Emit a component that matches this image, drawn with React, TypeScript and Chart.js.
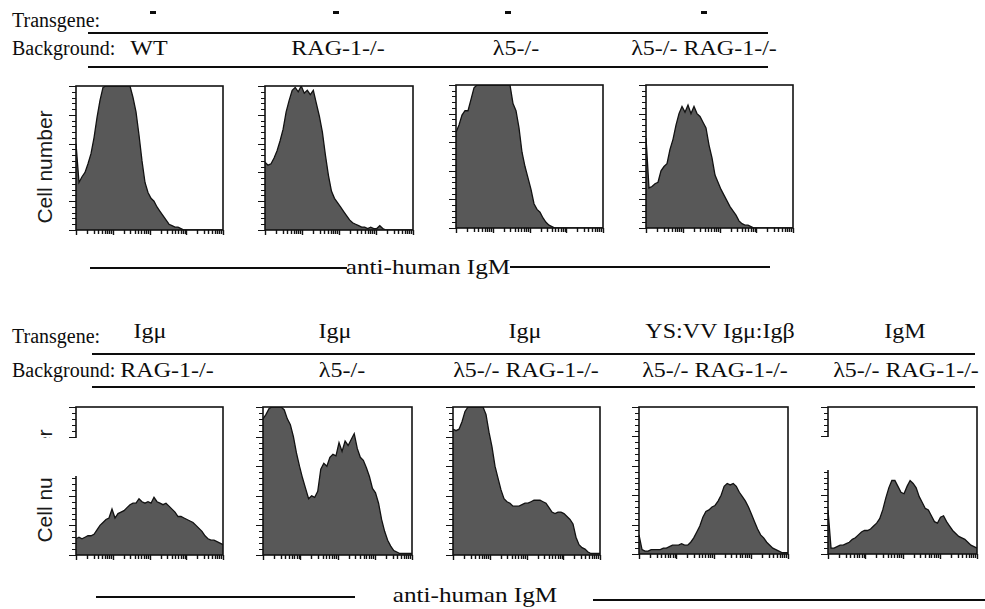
import React, { useEffect, useRef } from 'react';
import { Chart, registerables } from 'chart.js';

Chart.register(...registerables);

// ---------- data ----------
const channels: string[] = Array.from({ length: 50 }, (_, i) => String(i));

// top row: Transgene "-"
const wtNoTg = [60, 33, 37, 40, 46, 53, 64, 78, 90, 99, 100, 100, 100, 100, 100, 100, 100, 100, 100, 92, 82, 66, 48, 33, 26, 22, 20, 16, 13, 10, 7, 4, 3, 2, 2, 1, 0, 0, 0, 0, 0, 0, 0, 0, 0, 0, 0, 0, 0, 0];
const rag1NoTg = [47, 45, 46, 50, 55, 62, 70, 82, 90, 97, 99, 96, 100, 95, 97, 94, 97, 88, 79, 68, 52, 38, 27, 22, 19, 16, 13, 10, 7, 5, 4, 3, 2, 2, 1, 2, 1, 1, 3, 1, 0, 0, 0, 0, 0, 0, 0, 0, 0, 0];
const l5NoTg = [67, 72, 79, 82, 82, 90, 98, 100, 100, 100, 100, 100, 100, 100, 100, 100, 100, 100, 100, 87, 82, 70, 53, 43, 35, 27, 17, 13, 11, 7, 4, 2, 1, 0, 0, 0, 0, 0, 0, 0, 0, 0, 0, 0, 0, 0, 0, 0, 0, 0];
const l5Rag1NoTg = [63, 28, 29, 31, 32, 40, 43, 45, 55, 62, 72, 80, 85, 81, 86, 80, 85, 80, 78, 74, 70, 58, 49, 37, 32, 27, 23, 19, 15, 12, 9, 5, 3, 2, 2, 1, 0, 0, 0, 0, 0, 0, 0, 0, 0, 0, 0, 0, 0, 0];

// bottom row: with transgenes
const igmuRag1 = [11, 12, 11, 12, 13, 13, 14, 17, 20, 22, 24, 25, 31, 25, 28, 29, 30, 32, 34, 35, 35, 38, 36, 35, 36, 35, 39, 36, 35, 34, 35, 33, 31, 29, 26, 26, 25, 24, 23, 22, 20, 18, 16, 13, 11, 10, 10, 9, 8, 7];
const igmuL5 = [92, 95, 99, 100, 100, 100, 100, 98, 92, 88, 80, 69, 60, 52, 45, 38, 40, 39, 43, 58, 62, 60, 66, 68, 67, 76, 70, 77, 74, 78, 82, 72, 66, 64, 59, 53, 45, 42, 35, 24, 16, 10, 6, 3, 2, 1, 1, 1, 1, 1];
const igmuL5Rag1 = [85, 84, 85, 90, 97, 100, 100, 100, 100, 100, 100, 95, 83, 73, 60, 52, 44, 38, 36, 35, 33, 33, 33, 34, 35, 35, 36, 37, 37, 37, 36, 35, 32, 29, 28, 29, 29, 28, 26, 24, 21, 12, 7, 5, 4, 2, 1, 1, 1, 1];
const ysvvL5Rag1 = [13, 3, 2, 2, 3, 3, 3, 3, 4, 4, 5, 6, 6, 6, 7, 6, 6, 8, 11, 15, 19, 25, 29, 30, 32, 33, 36, 40, 46, 48, 47, 48, 46, 42, 39, 36, 32, 27, 22, 17, 13, 11, 8, 6, 4, 3, 2, 1, 1, 1];
const igmL5Rag1 = [30, 4, 4, 5, 6, 6, 7, 8, 10, 11, 13, 15, 16, 16, 17, 19, 21, 24, 30, 38, 45, 50, 50, 46, 42, 41, 46, 50, 48, 45, 39, 35, 31, 30, 26, 22, 21, 25, 26, 22, 19, 16, 14, 12, 11, 10, 8, 6, 5, 4];

const yTickValues = [0, 4, 8, 12, 16, 20, 24, 28, 32, 36, 40, 44, 48, 52, 56, 60, 64, 68, 72, 76, 80, 84, 88, 92, 96, 100];
const yMajorTicks = [0, 20, 40, 60, 80, 100];
const logTickValues = [1, 2, 3, 4, 5, 6, 7, 8, 9, 10, 20, 30, 40, 50, 60, 70, 80, 90, 100, 200, 300, 400, 500, 600, 700, 800, 900, 1000, 2000, 3000, 4000, 5000, 6000, 7000, 8000, 9000, 10000];
const logMajorTicks = [1, 10, 100, 1000, 10000];

// ---------- style ----------
const FILL = '#585858';
const EDGE = '#121212';
const INK = '#0d0d0d';
const SERIF = '"Liberation Serif", "Times New Roman", serif';
const SANS = '"Liberation Sans", Arial, sans-serif';
const PAD = { l: 10, t: 2, r: 2, b: 7 };
const LABEL_SX = 1.2;

const framePlugin = {
  id: 'facsFrame',
  afterDatasetsDraw(chart: any) {
    const { ctx, chartArea: a, scales } = chart;
    ctx.save();
    ctx.strokeStyle = EDGE;
    ctx.lineWidth = 1;
    ctx.beginPath();
    for (const v of yTickValues) {
      const y = Math.round(scales.y.getPixelForValue(v)) + 0.5;
      const len = yMajorTicks.includes(v) ? 7 : 4;
      ctx.moveTo(a.left - len, y);
      ctx.lineTo(a.left, y);
    }
    ctx.stroke();
    ctx.lineWidth = 1.4;
    ctx.beginPath();
    for (const v of logTickValues) {
      const x = Math.round(scales.xlog.getPixelForValue(v)) + 0.5;
      const len = logMajorTicks.includes(v) ? 5 : 4;
      ctx.moveTo(x, a.bottom);
      ctx.lineTo(x, a.bottom + len);
    }
    ctx.stroke();
    ctx.lineWidth = 1.6;
    ctx.strokeRect(a.left, a.top, a.right - a.left, a.bottom - a.top);
    ctx.restore();
  },
};

type Box = { x: number; y: number; w: number; h: number };

function Panel({ values, box }: { values: number[]; box: Box }) {
  const ref = useRef<HTMLCanvasElement>(null);
  useEffect(() => {
    if (!ref.current) return;
    const chart = new Chart(ref.current, {
      type: 'line',
      data: {
        labels: channels,
        datasets: [
          {
            data: values,
            fill: 'origin',
            backgroundColor: FILL,
            borderColor: EDGE,
            borderWidth: 1.3,
            pointRadius: 0,
            tension: 0,
          },
        ],
      },
      options: {
        animation: false,
        responsive: false,
        events: [],
        layout: { padding: { left: PAD.l, top: PAD.t, right: PAD.r, bottom: PAD.b } },
        plugins: { legend: { display: false }, tooltip: { enabled: false } },
        scales: {
          x: { type: 'category', display: false },
          y: { min: 0, max: 100, display: false },
          xlog: { type: 'logarithmic', axis: 'x', min: 1, max: 10000, display: false },
        },
      } as any,
      plugins: [framePlugin],
    });
    return () => chart.destroy();
  }, [values]);
  const W = box.w + PAD.l + PAD.r;
  const H = box.h + PAD.t + PAD.b;
  return (
    <canvas
      ref={ref}
      width={W}
      height={H}
      style={{ position: 'absolute', left: box.x - PAD.l, top: box.y - PAD.t, width: W, height: H }}
    />
  );
}

function Txt({ x, base, children, size = 20, mid = false, sx = 1, font = SERIF, bold = false }: any) {
  const parts: string[] = [];
  if (mid) parts.push('translateX(-50%)');
  if (sx !== 1) parts.push(`scaleX(${sx})`);
  return (
    <div
      style={{
        position: 'absolute',
        left: x,
        top: base - 0.84 * size,
        fontSize: size,
        lineHeight: `${size}px`,
        fontFamily: font,
        fontWeight: bold ? 'bold' : 'normal',
        whiteSpace: 'nowrap',
        color: INK,
        transform: parts.length ? parts.join(' ') : undefined,
        transformOrigin: mid ? 'center' : 'left',
      }}
    >
      {children}
    </div>
  );
}

function Rule({ x1, x2, y, t = 2 }: { x1: number; x2: number; y: number; t?: number }) {
  return <div style={{ position: 'absolute', left: x1, top: y - t / 2, width: x2 - x1, height: t, background: INK }} />;
}

function Dash({ cx, cy }: { cx: number; cy: number }) {
  return <div style={{ position: 'absolute', left: cx - 3, top: cy - 1.5, width: 6, height: 3, background: INK }} />;
}

function Vlabel({ cx, cy, text }: { cx: number; cy: number; text: string }) {
  return (
    <div
      style={{
        position: 'absolute',
        left: cx,
        top: cy,
        fontFamily: SANS,
        fontSize: 21,
        lineHeight: '21px',
        color: '#1a1a1a',
        whiteSpace: 'nowrap',
        transform: 'translate(-50%, -50%) rotate(-90deg)',
      }}
    >
      {text}
    </div>
  );
}

function Mask({ x, y, w, h }: Box) {
  return <div style={{ position: 'absolute', left: x, top: y, width: w, height: h, background: '#fff' }} />;
}

export default function App() {
  return (
    <div style={{ position: 'absolute', left: 0, top: 0, width: 985, height: 609, overflow: 'hidden', background: '#fff' }}>
      {/* top header */}
      <Txt x={12} base={27}>Transgene:</Txt>
      <span title="-"><Dash cx={153} cy={12} /></span>
      <span title="-"><Dash cx={336} cy={12} /></span>
      <span title="-"><Dash cx={508} cy={12} /></span>
      <span title="-"><Dash cx={704} cy={12} /></span>
      <Rule x1={88} x2={768} y={33} />
      <Txt x={12} base={55}>Background:</Txt>
      <Txt x={149} base={55} mid sx={LABEL_SX}>WT</Txt>
      <Txt x={338} base={55} mid sx={LABEL_SX}>RAG-1-/-</Txt>
      <Txt x={516} base={55} mid sx={LABEL_SX}>λ5-/-</Txt>
      <Txt x={704} base={55} mid sx={LABEL_SX}>λ5-/- RAG-1-/-</Txt>
      <Rule x1={88} x2={768} y={67} />

      <Vlabel cx={44} cy={167} text="Cell number" />
      <Panel values={wtNoTg} box={{ x: 76, y: 86, w: 147, h: 144 }} />
      <Panel values={rag1NoTg} box={{ x: 265, y: 86, w: 148, h: 144 }} />
      <Panel values={l5NoTg} box={{ x: 456, y: 85, w: 147, h: 143 }} />
      <Panel values={l5Rag1NoTg} box={{ x: 646, y: 85, w: 147, h: 143 }} />

      <Rule x1={90} x2={347} y={268} />
      <Txt x={428} base={275} size={21} mid sx={LABEL_SX}>anti-human IgM</Txt>
      <Rule x1={510} x2={770} y={267} />

      {/* bottom header */}
      <Txt x={12} base={343}>Transgene:</Txt>
      <Txt x={150} base={338} mid sx={LABEL_SX}>Igμ</Txt>
      <Txt x={335} base={338} mid sx={LABEL_SX}>Igμ</Txt>
      <Txt x={525} base={338} mid sx={LABEL_SX}>Igμ</Txt>
      <Txt x={720} base={338} mid sx={LABEL_SX}>YS:VV Igμ:Igβ</Txt>
      <Txt x={905} base={338} mid sx={LABEL_SX}>IgM</Txt>
      <Rule x1={92} x2={975} y={354} />
      <Txt x={12} base={377}>Background:</Txt>
      <Txt x={167} base={377} mid sx={LABEL_SX}>RAG-1-/-</Txt>
      <Txt x={342} base={377} mid sx={LABEL_SX}>λ5-/-</Txt>
      <Txt x={526} base={377} mid sx={LABEL_SX}>λ5-/- RAG-1-/-</Txt>
      <Txt x={715} base={377} mid sx={LABEL_SX}>λ5-/- RAG-1-/-</Txt>
      <Txt x={906} base={377} mid sx={LABEL_SX}>λ5-/- RAG-1-/-</Txt>
      <Rule x1={92} x2={975} y={387} />

      <Vlabel cx={44} cy={486} text="Cell number" />
      <Panel values={igmuRag1} box={{ x: 76, y: 407, w: 147, h: 148 }} />
      <Panel values={igmuL5} box={{ x: 263, y: 407, w: 149, h: 148 }} />
      <Panel values={igmuL5Rag1} box={{ x: 453, y: 407, w: 147, h: 148 }} />
      <Panel values={ysvvL5Rag1} box={{ x: 639, y: 407, w: 149, h: 147 }} />
      <Panel values={igmL5Rag1} box={{ x: 828, y: 407, w: 149, h: 147 }} />
      <Mask x={28} y={438} w={50} h={38} />
      <Mask x={812} y={437} w={17.5} h={33} />

      <Rule x1={96} x2={355} y={597} />
      <Txt x={475} base={603} size={21} mid sx={LABEL_SX}>anti-human IgM</Txt>
      <Rule x1={593} x2={985} y={600} />
    </div>
  );
}
